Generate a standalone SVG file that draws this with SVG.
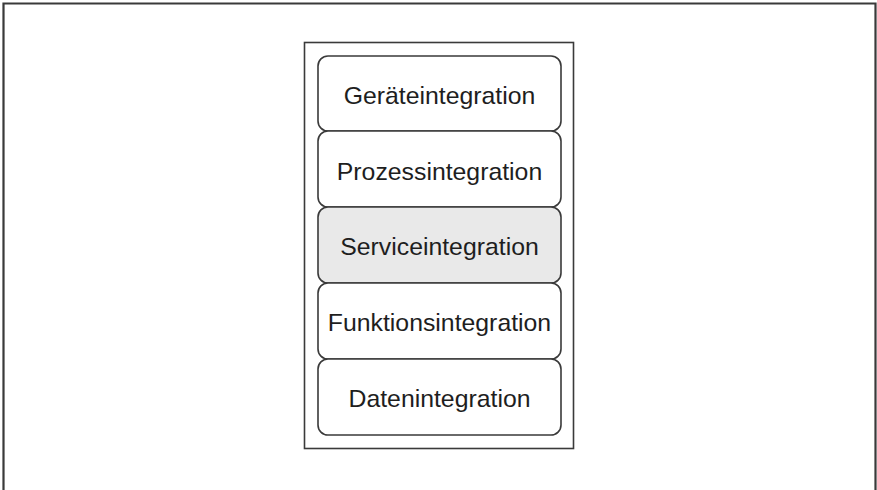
<svg xmlns="http://www.w3.org/2000/svg" width="877" height="490" viewBox="0 0 877 490">
<style>
.box{fill:#fff;stroke:#3a3a3a;stroke-width:1.6}
.hl{fill:#e9e9e9}
.lbl{font-family:"Liberation Sans",Arial,sans-serif;font-size:24.8px;fill:#1e1e1e;text-anchor:middle}
</style>
<rect x="0" y="0" width="877" height="490" fill="#fff"/>
<path d="M3.5 492 V3.5 H875.5 V492" fill="none" stroke="#3a3a3a" stroke-width="2.2"/>
<g id="container"><rect x="304.5" y="42.5" width="269" height="406" fill="#fff" stroke="#3a3a3a" stroke-width="1.6"/></g>
<g id="n1"><rect class="box" x="318" y="56" width="243" height="75" rx="10"/><text class="lbl" x="439.5" y="104">Geräteintegration</text></g>
<g id="n2"><rect class="box" x="318" y="131" width="243" height="76" rx="10"/><text class="lbl" x="439.5" y="180">Prozessintegration</text></g>
<g id="n3"><rect class="box hl" x="318" y="207" width="243" height="76" rx="10"/><text class="lbl" x="439.5" y="255">Serviceintegration</text></g>
<g id="n4"><rect class="box" x="318" y="283" width="243" height="76" rx="10"/><text class="lbl" x="439.5" y="331">Funktionsintegration</text></g>
<g id="n5"><rect class="box" x="318" y="359" width="243" height="76" rx="10"/><text class="lbl" x="439.5" y="407">Datenintegration</text></g>
<g id="connectors"></g>
</svg>
